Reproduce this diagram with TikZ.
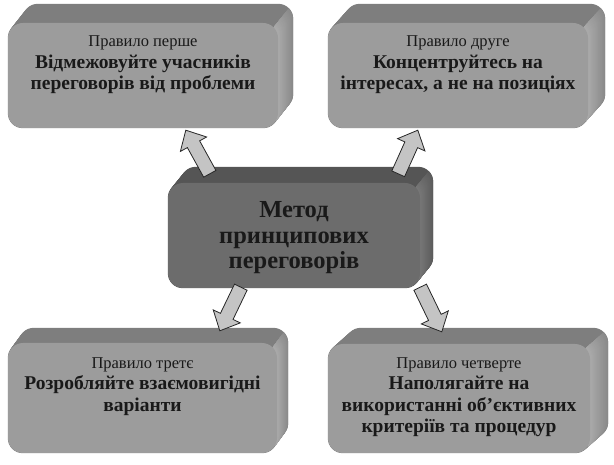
\documentclass[tikz,border=0pt]{standalone}
\usepackage{fontspec}
\setmainfont{Liberation Serif}
\usepackage{xcolor}
\usepackage{tikz}
\usetikzlibrary{positioning, calc, backgrounds}

\definecolor{facegray}{HTML}{9C9C9C}
\definecolor{topgray}{HTML}{7E7E7E}
\definecolor{sidenear}{HTML}{ABABAB}
\definecolor{sidefar}{HTML}{8A8A8A}
\definecolor{coregray}{HTML}{6C6C6C}
\definecolor{coretop}{HTML}{555555}
\definecolor{corenear}{HTML}{787878}
\definecolor{corefar}{HTML}{5C5C5C}
\definecolor{arrowgray}{HTML}{C4C4C4}

\newcommand{\rulelabel}{\fontsize{16.5}{19}\selectfont\mdseries}

% extruded body behind a face node: node, dx, dy, top colour, near side, far side
\newcommand{\slab}[6]{%
  \begin{pgfonlayer}{background}
    \foreach \k in {20,19,...,0}
      \fill[#4, rounded corners=15pt] ($(#1.south west)+(\k/20*#2,-\k/20*#3)$) rectangle ($(#1.north east)+(\k/20*#2,-\k/20*#3)$);
    \begin{scope}
      \clip ($(#1.north east)+(-4.4,4.4)$) -- ++(3*#2,-3*#3) -- ++(80,0) |- ($(#1.south east)+(0,100)$) -- cycle;
      \foreach \k [evaluate=\k as \p using 100-5*\k] in {20,19,...,0}
        \fill[#5!\p!#6, rounded corners=15pt] ($(#1.south west)+(\k/20*#2,-\k/20*#3)$) rectangle ($(#1.north east)+(\k/20*#2,-\k/20*#3)$);
    \end{scope}
  \end{pgfonlayer}
}

% block arrow from tail to tip
\newcommand{\blockarrow}[2]{%
  \coordinate (hb) at ($(#2)!16pt!(#1)$);
  \draw[arrowbody] ($(#1)!7pt!90:(#2)$) -- ($(hb)!7pt!-90:(#1)$) -- ($(hb)!15pt!-90:(#1)$) -- (#2)
    -- ($(hb)!15pt!90:(#1)$) -- ($(hb)!7pt!90:(#1)$) -- ($(#1)!7pt!-90:(#2)$) -- cycle;
}

\begin{document}
\begin{tikzpicture}[
    x=1pt, y=-1pt,
    face/.style={rectangle, fill=facegray, rounded corners=15pt, inner sep=0pt},
    coreface/.style={rectangle, fill=coregray, rounded corners=15pt, inner sep=0pt},
    caption/.style={align=center, inner sep=0pt, text=black!90, font=\fontsize{19.5}{21.5}\selectfont\bfseries},
    corecaption/.style={align=center, inner sep=0pt, text=black!90, font=\fontsize{24.5}{25.5}\selectfont\bfseries},
    arrowbody/.style={draw=black!85, fill=arrowgray, line width=0.8pt, line join=miter}
]
    \useasboundingbox (0,0) rectangle (614,465);

    % Nodes
    \node[face, minimum width=270pt, minimum height=105pt] (ruleOne) at (143,75.5) {};
    \node[face, minimum width=260pt, minimum height=105pt] (ruleTwo) at (458,75.5) {};
    \node[coreface, minimum width=252pt, minimum height=105pt] (method) at (294,235.5) {};
    \node[face, minimum width=269pt, minimum height=110pt] (ruleThree) at (142.5,398) {};
    \node[face, minimum width=262pt, minimum height=109pt] (ruleFour) at (459,398.5) {};

    \slab{ruleOne}{15}{19}{topgray}{sidenear}{sidefar}
    \slab{ruleTwo}{17}{19}{topgray}{sidenear}{sidefar}
    \slab{method}{13}{16}{coretop}{corenear}{corefar}
    \slab{ruleThree}{11}{15}{topgray}{sidenear}{sidefar}
    \slab{ruleFour}{18}{16}{topgray}{sidenear}{sidefar}

    % Texts
    \node[caption, below=13pt of ruleOne.north] (ruleOneText) {{\rulelabel Правило перше}\\Відмежовуйте учасників\\переговорів від проблеми};
    \node[caption, below=13pt of ruleTwo.north] (ruleTwoText) {{\rulelabel Правило друге}\\Концентруйтесь на\\інтересах, а не на позиціях};
    \node[corecaption, below=18.5pt of method.north] (methodText) {Метод\\принципових\\переговорів};
    \node[caption, below=14.5pt of ruleThree.north] (ruleThreeText) {{\rulelabel Правило третє}\\Розробляйте взаємовигідні\\варіанти};
    \node[caption, below=13.5pt of ruleFour.north] (ruleFourText) {{\rulelabel Правило четверте}\\Наполягайте на\\використанні об’єктивних\\критеріїв та процедур};

    % Arrow ends
    \coordinate (oneTail) at ($(method.north west)+(42,-9)$);
    \coordinate (oneTip) at ($(ruleOne.south west)+(178,2)$);
    \coordinate (twoTail) at ($(method.north east)+(-22,-9)$);
    \coordinate (twoTip) at ($(ruleTwo.south west)+(90,2)$);
    \coordinate (threeTail) at ($(method.south west)+(73,-1)$);
    \coordinate (threeTip) at ($(ruleThree.north west)+(212,-12)$);
    \coordinate (fourTail) at ($(method.south east)+(0,-1)$);
    \coordinate (fourTip) at ($(ruleFour.north west)+(114,-12)$);

    % Arrows
    \blockarrow{oneTail}{oneTip}
    \blockarrow{twoTail}{twoTip}
    \blockarrow{threeTail}{threeTip}
    \blockarrow{fourTail}{fourTip}

\end{tikzpicture}
\end{document}
